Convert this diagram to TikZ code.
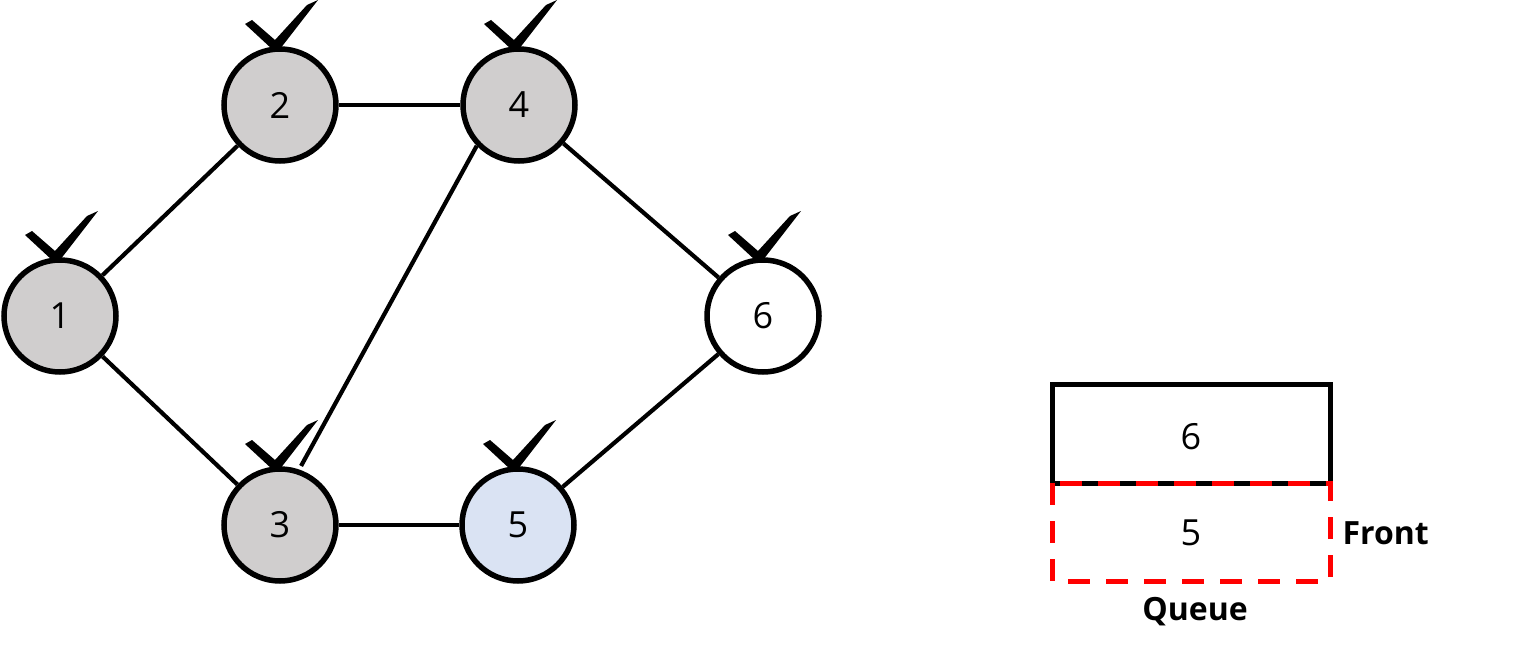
\documentclass[tikz,border=0pt]{standalone}
\usepackage{fontspec}
\setmainfont{Open Sans}
\begin{document}
\begin{tikzpicture}[x=1pt,y=-1pt,
  vtx/.style={circle,draw=black,line width=5.5pt,minimum size=112pt,inner sep=0pt,font=\fontsize{36}{38}\selectfont},
  visited/.style={vtx,fill={rgb,255:red,208;green,206;blue,206}},
  current/.style={vtx,fill={rgb,255:red,218;green,227;blue,243}},
  fresh/.style={vtx,fill=white},
  edge/.style={line width=4.2pt},
  chk/.style={fill=black},
  qbox/.style={draw=black,line width=5pt},
  qfront/.style={draw={rgb,255:red,255;green,0;blue,0},line width=5pt,dash pattern=on 22pt off 16pt},
  qtext/.style={font=\fontsize{36}{38}\selectfont},
  lbl/.style={font=\fontsize{32}{34}\selectfont\bfseries}
]
\useasboundingbox (0,0) rectangle (1531,658);
\node[visited] (n1) at (60,316) {1};
\node[visited] (n2) at (280,105) {2};
\node[visited] (n4) at (519,105) {4};
\node[fresh]   (n6) at (763,316) {6};
\node[visited] (n3) at (280,525) {3};
\node[current] (n5) at (518,525) {5};
\draw[edge] (n1) -- (n2);
\draw[edge] (n1) -- (n3);
\draw[edge] (n2) -- (n4);
\draw[edge,shorten >=4pt] (n4.224) -- (n3.71);
\draw[edge] (n4) -- (n6);
\draw[edge] (n6) -- (n5);
\draw[edge] (n3) -- (n5);
% check marks
\foreach \n in {n1,n2,n4,n6,n3,n5}{
  \fill[chk,shift={(\n.center)}] (-35,-81) -- (-28,-85) -- (-5,-65) -- (27,-100) -- (38,-105) -- (0,-56) -- (-8,-56) -- cycle;
}
% queue
\coordinate (q1) at (1052,384);
\coordinate (q2) at (1330,483);
\coordinate (q3) at (1330,581);
\coordinate (q4) at (1052,483);
\draw[qbox] (q1) rectangle (q2);
\node[qtext] (q6) at (1191,437) {6};
\draw[qfront] (q4) rectangle (q3);
\node[qtext] (q5) at (1191,533) {5};
\node[lbl,anchor=west] (front) at (1339,533) {Front};
\node[lbl] (queue) at (1195,612) {Queue};
\end{tikzpicture}
\end{document}
